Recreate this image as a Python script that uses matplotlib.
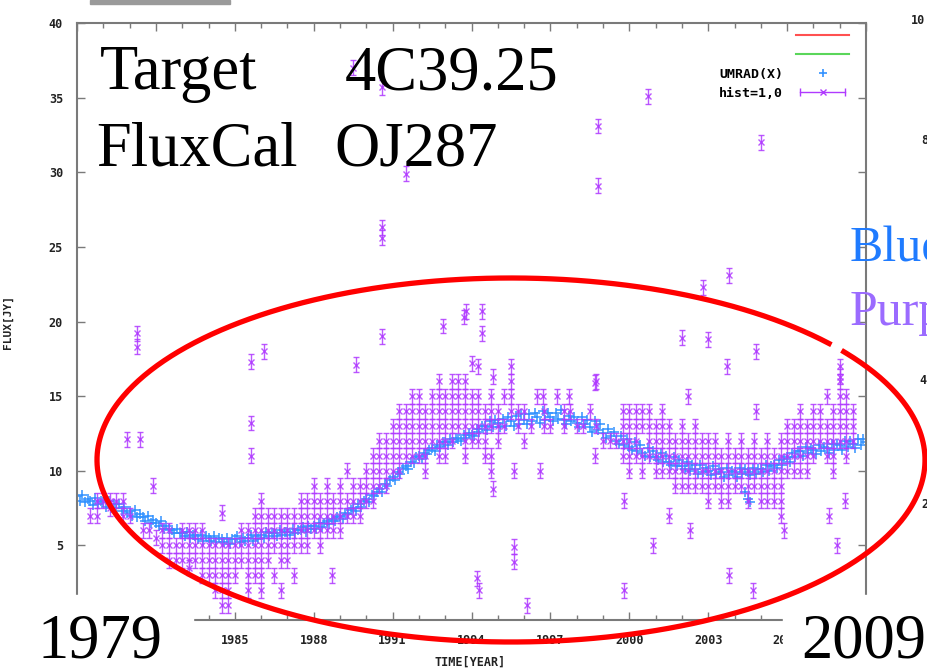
import numpy as np
import matplotlib
matplotlib.use('Agg')
import matplotlib.pyplot as plt
from matplotlib.lines import Line2D
from matplotlib.patches import Rectangle
from matplotlib.transforms import Affine2D
from matplotlib.legend_handler import HandlerLine2D, HandlerTuple

W, H = 928, 672

# UMRAD(X) light curve, one sample every 0.1 yr from 1979.0
umrad_start = 1979.0
umrad_step = 0.1
umrad_flux = [
    8.3, 8.0, 8.4, 7.9, 8.1,  8.0, 7.7, 8.2, 7.8, 8.0,
    7.9, 7.6, 8.0, 7.5, 7.8,  7.5, 7.8, 7.3, 7.6, 7.2,
    7.3, 7.0, 7.4, 6.9, 7.1,  6.9, 6.6, 7.0, 6.5, 6.7,
    6.5, 6.3, 6.6, 6.1, 6.3,  6.1, 6.0, 5.8, 6.1, 5.8,
    5.8, 5.6, 5.9, 5.5, 5.7,  5.6, 5.4, 5.7, 5.3, 5.6,
    5.5, 5.3, 5.6, 5.2, 5.5,  5.4, 5.2, 5.5, 5.1, 5.4,
    5.4, 5.6, 5.2, 5.5, 5.3,  5.5, 5.7, 5.3, 5.6, 5.4,
    5.7, 5.5, 5.9, 5.6, 5.8,  5.8, 5.6, 6.0, 5.7, 5.9,
    5.9, 5.7, 6.1, 5.8, 6.0,  6.0, 6.2, 5.9, 6.3, 6.1,
    6.3, 6.1, 6.5, 6.2, 6.5,  6.6, 6.4, 6.8, 6.6, 6.9,
    7.0, 6.8, 7.2, 7.1, 7.4,  7.5, 7.3, 7.8, 7.6, 8.0,
    8.1, 7.9, 8.4, 8.3, 8.6,  8.8, 8.6, 9.1, 9.0, 9.4,
    9.6, 9.4, 9.9, 9.8, 10.2,  10.3, 10.1, 10.6, 10.5, 10.9,
    11.0, 10.8, 11.2, 11.1, 11.4,  11.5, 11.3, 11.7, 11.6, 11.9,
    11.9, 11.7, 12.1, 11.9, 12.2,  12.1, 12.0, 12.4, 12.2, 12.5,
    12.4, 12.3, 12.8, 12.6, 13.0,  13.0, 12.7, 13.3, 12.9, 13.4,
    13.2, 12.9, 13.5, 13.0, 13.6,  13.3, 13.0, 13.7, 13.1, 13.8,
    13.4, 13.1, 13.8, 13.3, 13.9,  13.6, 13.2, 14.0, 13.4, 13.9,
    13.6, 13.3, 13.9, 13.5, 14.1,  13.4, 13.1, 13.7, 13.3, 13.6,
    13.2, 12.9, 13.6, 13.1, 13.4,  12.9, 12.6, 13.3, 12.7, 13.1,
    12.5, 12.2, 12.8, 12.3, 12.6,  12.0, 11.8, 12.3, 11.7, 12.1,
    11.6, 11.4, 11.9, 11.3, 11.7,  11.2, 11.0, 11.5, 10.9, 11.3,
    10.9, 10.7, 11.2, 10.6, 11.0,  10.6, 10.4, 10.9, 10.3, 10.7,
    10.3, 10.1, 10.6, 10.0, 10.4,  10.1, 9.8, 10.4, 9.9, 10.2,
    10.0, 9.7, 10.3, 9.8, 10.1,  9.9, 9.6, 10.2, 9.7, 10.0,
    9.9, 9.6, 10.2, 9.8, 10.1,  9.9, 9.7, 10.2, 9.8, 10.1,
    10.1, 9.9, 10.4, 10.0, 10.3,  10.4, 10.2, 10.7, 10.4, 10.8,
    10.9, 10.6, 11.2, 10.9, 11.3,  11.3, 11.0, 11.6, 11.2, 11.5,
    11.4, 11.1, 11.7, 11.3, 11.6,  11.5, 11.2, 11.8, 11.4, 11.8,
    11.7, 11.4, 12.0, 11.6, 12.0,  11.8, 11.5, 12.1, 11.7, 12.1,
    11.9,
]
umrad_spur_year = [2004.4, 2004.5, 2004.6]
umrad_spur_flux = [8.6, 8.1, 7.9]

# hist=1,0 points, one column of fluxes every 0.25 yr from 1979.5
hist_start = 1979.5
hist_step = 0.25
hist_cols = [
    [7], [8, 7], [8], [8, 7.5], [8], [8, 7], [7], [], [6], [6],            # 1979.5-
    [5.5], [6, 5], [6, 5, 4], [5, 4], [6, 5, 4], [6, 5, 4, 3.5],            # 1982.0-
    [6, 5, 4], [6, 5, 4, 3], [5, 4, 3], [5, 4, 3, 2], [5, 4, 3, 2, 1],      # 1983.5-
    [5, 4, 3, 2, 1], [5, 4, 3], [6, 5, 4], [6, 5, 4, 3, 2],                 # 1984.75-
    [7, 6, 5, 4, 3], [8, 7, 6, 5, 4, 3, 2], [7, 6, 5, 4], [7, 6, 5, 3],     # 1985.75-
    [7, 6, 5, 4, 2], [7, 6, 5, 4], [7, 6, 5, 3], [8, 7, 6, 5], [8, 7, 6, 5],  # 1986.75-
    [9, 8, 7, 6], [8, 7, 6, 5], [9, 8, 7, 6], [8, 7, 6], [9, 8, 7, 6],      # 1988.0-
    [10, 8, 7], [9, 8, 7], [9, 8, 7], [10, 9, 8], [11, 10, 9, 8],           # 1989.25-
    [12, 11, 10, 9], [12, 11, 10, 9], [13, 12, 11, 10], [14, 13, 12, 11, 10],  # 1990.5-
    [14, 13, 12, 11], [15, 14, 13, 12, 11], [15, 14, 13, 12, 11],           # 1991.5-
    [14, 13, 12, 11, 10], [15, 14, 13, 12], [16, 15, 14, 13, 12, 11],       # 1992.25-
    [15, 14, 13, 12, 11], [16, 15, 14, 13, 12], [16, 15, 14, 13],           # 1993.0-
    [16, 15, 14, 13, 12, 11], [15, 14, 13, 12], [17, 15, 14, 13, 12],       # 1993.75-
    [14, 13, 12, 11], [15, 14, 13, 11, 10], [14, 13, 12], [15, 13],         # 1994.5-
    [17, 16, 15, 14], [14, 13], [14, 12], [13], [15], [14, 13], [13],       # 1995.5-
    [15], [14, 13], [14], [13], [13], [14], [16, 13], [12], [12], [12],     # 1997.25-
    [14, 13, 12, 11], [14, 13, 12, 11, 10], [14, 13, 12, 11],               # 1999.75-
    [14, 13, 11, 10], [14, 13, 12, 11], [13, 12, 11, 10],                   # 2000.5-
    [14, 13, 12, 11, 10], [13, 12, 11, 10], [12, 11, 10, 9],                # 2001.25-
    [13, 12, 11, 10, 9], [15, 12, 11, 10, 9], [13, 12, 11, 10, 9],          # 2002.0-
    [12, 11, 10, 9], [12, 11, 10, 9, 8], [12, 11, 10, 9], [11, 10, 9, 8],   # 2002.75-
    [12, 11, 10, 9, 8], [11, 10, 9], [12, 11, 10, 9], [11, 10, 9, 8],       # 2003.75-
    [12, 11, 10, 9], [11, 10, 9, 8], [12, 11, 10, 9, 8], [11, 10, 9, 8],    # 2004.75-
    [12, 11, 10, 9, 8, 7], [13, 12, 11, 10], [13, 12, 11, 10],              # 2005.75-
    [14, 13, 12, 11, 10], [13, 12, 11, 10], [14, 13, 12, 11], [14, 13, 12],  # 2006.5-
    [15, 13, 12, 11], [14, 13, 12, 11, 10], [17, 16, 15, 14, 13, 12],       # 2007.5-
    [15, 14, 13, 12, 11], [14, 13, 12],                                     # 2008.25-
]
# isolated hist points away from the main band
hist_out_year = [
    1981.3, 1981.3, 1980.9, 1981.4, 1981.9, 1984.5, 1985.6, 1986.1, 1985.6,
    1985.6, 1988.7, 1989.6, 1990.6, 1992.9, 1993.7, 1993.8, 1994.4, 1994.4,
    1994.2, 1994.3, 1995.6, 1995.6, 1996.1, 1994.8, 1996.6, 1995.6, 1998.7,
    1998.7, 1999.8, 1999.8, 2000.9, 2002.0, 2003.0, 2004.8, 2003.7, 2001.5,
    2002.3, 2003.8, 2004.7, 2005.9, 2007.6, 2007.9, 2008.2, 2004.8, 2008.0,
    1990.6, 1990.6, 1990.6, 1989.5, 1991.5, 2000.7, 1998.8, 1998.8, 2005.0,
    2003.8, 2002.8, 1997.7, 1996.7, 1994.8, 1994.0,
]
hist_out_flux = [
    19.2, 18.3, 12.1, 12.1, 9.0, 7.2, 17.3, 18.0, 13.2,
    11.0, 3.0, 17.1, 19.0, 19.7, 20.3, 20.7, 20.7, 19.2,
    2.8, 2.0, 4.9, 3.9, 1.0, 8.8, 10.0, 10.0, 15.9,
    11.0, 8.0, 2.0, 5.0, 18.9, 18.8, 18.0, 17.0, 7.0,
    6.0, 3.0, 2.0, 6.0, 7.0, 5.0, 8.0, 14.0, 16.3,
    25.6, 26.3, 35.7, 37.0, 29.9, 35.1, 33.1, 29.1, 32.0,
    23.1, 22.3, 15.0, 15.0, 16.3, 17.2,
]

x_ticks = [1979, 1982, 1985, 1988, 1991, 1994, 1997, 2000, 2003, 2006, 2009]
x_tick_labels = ['', '', '1985', '1988', '1991', '1994', '1997', '2000', '2003', '2006', '']
y_ticks = [0, 5, 10, 15, 20, 25, 30, 35, 40]
y_tick_labels = ['', '5', '10', '15', '20', '25', '30', '35', '40']

blue = '#3392ff'
purple = '#b03aff'
axis_grey = '#7a7a7a'
mono = 'DejaVu Sans Mono'

umrad_year = umrad_start + umrad_step * np.arange(len(umrad_flux))
hist_year = hist_start + hist_step * np.arange(len(hist_cols))
hist_t = np.concatenate([np.repeat(hist_year, [len(c) for c in hist_cols]), hist_out_year])
hist_f = np.concatenate([np.concatenate([np.array(c, float) for c in hist_cols]), hist_out_flux])

fig = plt.figure(figsize=(W / 100, H / 100), dpi=100)
# pixel coordinates, origin at the top-left corner of the canvas
px = Affine2D().scale(1 / W, -1 / H).translate(0, 1) + fig.transFigure

ax = fig.add_axes([77 / W, 1 - 620 / H, (866 - 77) / W, (620 - 23) / H])

ax.plot(np.concatenate([umrad_year, umrad_spur_year]),
        np.concatenate([umrad_flux, umrad_spur_flux]),
        '+', ms=6.5, mew=1.1, color=blue, zorder=2)
ax.errorbar(hist_t, hist_f, yerr=0.5, fmt='x', ms=4, mew=1, color=purple,
            ecolor=purple, elinewidth=1, capsize=2.5, capthick=1, alpha=0.85,
            zorder=3)

ax.set_xlim(1979, 2009)
ax.set_ylim(0, 40)
ax.set_xticks(x_ticks)
ax.set_xticklabels(x_tick_labels)
ax.set_xticks(np.arange(1979, 2010, 1), minor=True)
ax.set_yticks(y_ticks)
ax.set_yticklabels(y_tick_labels)
ax.tick_params(which='both', direction='in', top=True, right=True, color=axis_grey,
               labelsize=8.5, labelcolor='#222222', width=1)
ax.tick_params(which='major', length=6)
ax.tick_params(which='minor', length=3.5)
ax.tick_params(axis='y', pad=10)
ax.tick_params(axis='x', pad=10)
for lab in ax.get_xticklabels() + ax.get_yticklabels():
    lab.set_fontfamily(mono)
    lab.set_fontweight('bold')
for sp in ax.spines.values():
    sp.set_color(axis_grey)
    sp.set_linewidth(1.5)

ax.set_xlabel('TIME[YEAR]', fontfamily=mono, fontweight='bold',
              fontsize=8.5, color='#222222')
ax.set_ylabel('FLUX[JY]', fontfamily=mono, fontweight='bold',
              fontsize=8, color='#222222')
ax.xaxis.set_label_coords((470 - 77) / 789, -(656 - 620) / 597)
ax.yaxis.set_label_coords(-(77 - 13) / 789, 0.5)

# key: two unnamed fit lines, then the two data sets
red_h = Line2D([], [], color='#ff5050', lw=1.5)
green_h = Line2D([], [], color='#5ad65a', lw=1.5)
blue_h = Line2D([], [], ls='none', marker='+', ms=6, mew=1.2, color=blue)
bar_h = Line2D([], [], color=purple, lw=1, marker='|', ms=6)
cross_h = Line2D([], [], ls='none', marker='x', ms=5, color=purple)
ax.legend([red_h, green_h, blue_h, (bar_h, cross_h)],
          ['', '', 'UMRAD(X)', 'hist=1,0'],
          handler_map={bar_h: HandlerLine2D(numpoints=2),
                       cross_h: HandlerLine2D(numpoints=1),
                       blue_h: HandlerLine2D(numpoints=1),
                       tuple: HandlerTuple(ndivide=1)},
          loc='upper right', bbox_to_anchor=(849 / W, 1 - 30 / H),
          bbox_transform=fig.transFigure, frameon=False, markerfirst=False,
          borderpad=0, borderaxespad=0, handlelength=4.0, handletextpad=1.0,
          labelspacing=0.45, prop={'family': mono, 'weight': 'bold', 'size': 9.5})

# white patches over the lower corners, and a strip of the window above
fig.add_artist(Rectangle((0, 595), 193, 80, transform=px, color='white', zorder=1))
fig.add_artist(Rectangle((783, 595), 150, 80, transform=px, color='white', zorder=1))
fig.add_artist(Rectangle((90, 0), 140, 4, transform=px, color='#9a9a9a', zorder=1))

serif = 'Liberation Serif'
big = dict(transform=px, family=serif, fontsize=45, color='black', va='baseline', zorder=4)
fig.text(100, 89, 'Target', **big)
fig.text(345, 89, '4C39.25', **big)
fig.text(96, 165, 'FluxCal', **big)
fig.text(334, 165, 'OJ287', **big)
fig.text(38, 658, '1979', **big)
fig.text(801, 658, '2009', **big)

# neighbouring panel cut off at the right edge
fig.text(850, 262, 'Blue', transform=px, family=serif, fontsize=36, color='#1f7bff',
         va='baseline', zorder=4)
fig.text(850, 325, 'Purple', transform=px, family=serif, fontsize=36, color='#9b6bff',
         va='baseline', zorder=4)
side = dict(transform=px, family=mono, fontweight='bold', fontsize=8.5,
            color='#222222', va='center', zorder=4)
fig.text(911, 20, '10', **side)
fig.text(921, 140, '8', **side)
fig.text(919, 381, '4', **side)
fig.text(921, 505, '2', **side)

# hand-drawn red ring, with a small break at upper right
ring_cx, ring_cy, ring_a, ring_b = 511, 460, 414, 182
ring_gap = (36.5, 39.8)
t = np.radians(np.linspace(ring_gap[1], ring_gap[0] + 360, 600))
fig.add_artist(Line2D(ring_cx + ring_a * np.cos(t), ring_cy - ring_b * np.sin(t),
                      transform=px, color='red', lw=3.8, zorder=3))

fig.savefig('out.png', dpi=100)
